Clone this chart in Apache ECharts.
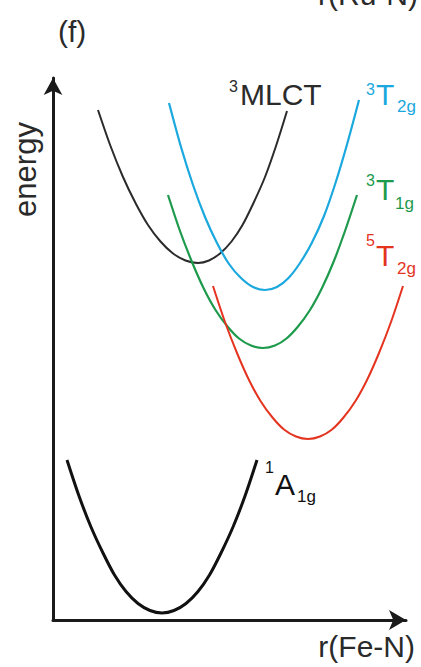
<!DOCTYPE html>
<html>
<head>
<meta charset="utf-8">
<script src="https://cdn.jsdelivr.net/npm/echarts@6/dist/echarts.min.js"></script>
<style>html,body{margin:0;padding:0;background:#fff}#c{width:421px;height:667px}</style>
</head>
<body>
<div id="c"></div>
<script>
// x: distance along r(Fe-N) (arbitrary units), y: energy (arbitrary units)
const gsX   = [14, 26, 38, 50, 61.5, 73, 85, 97, 109, 121, 133, 145, 156.5, 168, 180, 192, 204];
const gsY   = [160, 124, 93, 67, 45, 28.5, 16.5, 9.5, 7, 9.5, 16.5, 28.5, 45, 67, 93, 124, 160];
const mlctX = [45, 57.5, 70, 82.5, 95, 107.5, 120, 132.5, 145, 156, 167, 178.5, 189.5, 200.5, 212, 223, 234];
const mlctY = [510, 474, 443, 417, 395, 378.5, 366.5, 359.5, 357, 359.5, 366.5, 378.5, 395, 417, 443, 474, 509];
const t2g3X = [116, 128, 140, 152, 164, 176, 188, 200, 212, 224, 235.5, 247, 259, 271, 282.5, 294, 306];
const t2g3Y = [517, 473, 435, 403, 377, 356, 342, 333, 330, 333, 342, 357, 377.5, 404, 437, 475.5, 520];
const t1g3X = [115, 127, 139, 150.5, 162.5, 174.5, 186, 198, 210, 222, 233.5, 245, 257, 269, 280.5, 292, 304];
const t1g3Y = [425, 389, 358, 332, 310, 293.5, 281.5, 274.5, 272, 274.5, 281.5, 293.5, 310, 332, 358, 389, 425];
const t2g5X = [160, 172, 184, 195.5, 207.5, 219.5, 231, 243, 255, 267, 279, 290.5, 302.5, 314.5, 326, 338, 350];
const t2g5Y = [334, 298, 267, 241, 219, 202.5, 190.5, 183.5, 181, 183.5, 190.5, 202.5, 219, 241, 267, 298, 334];

const zip = (xs, ys) => xs.map((x, i) => [x, ys[i]]);

const FONT = '"Liberation Sans", Arial, sans-serif';
const C_BLACK = '#111111', C_MLCT = '#2b2b2b', C_CYAN = '#1aa8de', C_GREEN = '#1e9a4c', C_RED = '#e4331f';

function txt(text, x, y, size, color, align, rotation) {
  return {
    type: 'text', silent: true, x: x, y: y, rotation: rotation || 0,
    style: { text: text, x: 0, y: 0, fill: color, font: size + 'px ' + FONT,
             align: align || 'left', verticalAlign: 'middle' }
  };
}

const chart = echarts.init(document.getElementById('c'), null, { renderer: 'svg' });
const lineSeries = (name, xs, ys, color, w) => ({
  name: name, type: 'line', data: zip(xs, ys), smooth: 0.3,
  showSymbol: false, silent: true, lineStyle: { color: color, width: w }
});

chart.setOption({
  animation: false,
  backgroundColor: '#ffffff',
  grid: { left: 53, right: 15, top: 78, bottom: 47 },
  xAxis: {
    type: 'value', min: 0, max: 353,
    axisLine: { show: true, lineStyle: { color: '#1a1a1a', width: 3 }, symbol: ['none', 'arrow'], symbolSize: [15, 17] },
    axisTick: { show: false }, axisLabel: { show: false }, splitLine: { show: false }
  },
  yAxis: {
    type: 'value', min: 0, max: 542,
    axisLine: { show: true, lineStyle: { color: '#1a1a1a', width: 3 }, symbol: ['none', 'arrow'], symbolSize: [14, 17] },
    axisTick: { show: false }, axisLabel: { show: false }, splitLine: { show: false }
  },
  series: [
    lineSeries('1A1g', gsX, gsY, C_BLACK, 3),
    lineSeries('3MLCT', mlctX, mlctY, C_MLCT, 2),
    lineSeries('3T2g', t2g3X, t2g3Y, C_CYAN, 2.2),
    lineSeries('3T1g', t1g3X, t1g3Y, C_GREEN, 2.2),
    lineSeries('5T2g', t2g5X, t2g5Y, C_RED, 2)
  ],
  graphic: [
    txt('r(Ru-N)', 418, -5.5, 30, '#2a2a2a', 'right'),
    txt('(f)', 58, 31.5, 30, '#2a2a2a'),
    txt('energy', 25, 169.5, 31, '#2a2a2a', 'center', Math.PI / 2),
    txt('3', 229, 86, 16, C_MLCT),
    txt('MLCT', 240, 94.5, 30, C_MLCT),
    txt('3', 366, 89, 16, C_CYAN),
    txt('T', 376, 94.5, 30, C_CYAN),
    txt('2g', 397, 106, 17, C_CYAN),
    txt('3', 366, 180, 16, C_GREEN),
    txt('T', 376, 189.5, 30, C_GREEN),
    txt('1g', 395, 203, 17, C_GREEN),
    txt('5', 366, 240, 16, C_RED),
    txt('T', 376, 255.5, 30, C_RED),
    txt('2g', 397, 268, 17, C_RED),
    txt('1', 265, 467, 16, C_BLACK),
    txt('A', 275, 484.5, 30, C_BLACK),
    txt('1g', 297, 496, 17, C_BLACK),
    txt('r(Fe-N)', 415, 646.5, 30, '#2a2a2a', 'right')
  ]
});
</script>
</body>
</html>
